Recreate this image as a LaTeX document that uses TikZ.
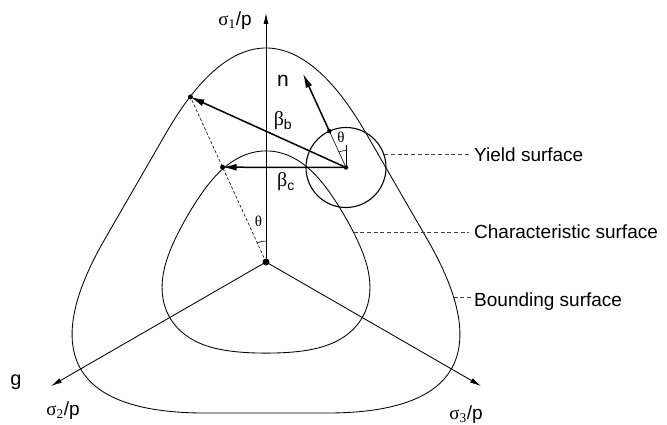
\documentclass[tikz,border=0pt]{standalone}
\usepackage{fontspec}
\setmainfont{Liberation Sans}
\newfontfamily\grk{Liberation Serif}
\usetikzlibrary{arrows.meta,calc}
\begin{document}
\begin{tikzpicture}[x=1pt,y=-1pt,
  curve/.style={line width=0.85pt},
  axis/.style={line width=0.85pt,-{Latex[length=11pt,width=5pt]}},
  vec/.style={line width=1.5pt,-{Latex[length=14pt,width=7pt]}},
  thinl/.style={line width=0.6pt},
  leader/.style={line width=0.6pt,draw=black!75,dash pattern=on 4pt off 2.7pt},
  guide/.style={line width=0.6pt,dash pattern=on 3pt off 2pt},
  dot/.style={circle,fill,inner sep=0pt,minimum size=#1},
  lbl/.style={font=\fontsize{19}{22}\selectfont,anchor=base west,inner sep=0pt},
  sym/.style={font=\fontsize{19}{22}\selectfont,inner sep=0pt},
  greek/.style={font=\fontsize{20}{22}\selectfont\grk,inner sep=0pt},
  ang/.style={font=\fontsize{15}{17}\selectfont\grk,inner sep=0pt}
]
\useasboundingbox (0,0) rectangle (667,425);

% key points
\coordinate (O) at (266,262);
\coordinate (s1) at (266,13);
\coordinate (s2) at (51,386);
\coordinate (s3) at (481,386);
\coordinate (C) at (346,167.5);
\coordinate (B) at ($(O)+(-114.6:181.5)$);
\coordinate (Cc) at ($(O)!0.5745!(B)$);
\coordinate (N0) at ($(C)+(-114.6:40)$);
\coordinate (N1) at ($(C)+(-114.6:103)$);

% bounding surface: straight sides with rounded corners
\coordinate (A0) at (166,133.2);
\coordinate (A1) at (231.6,19.6);
\coordinate (A2) at (300.4,19.6);
\coordinate (A3) at (366,133.2);
\foreach \n in {0,1,2,3}{
  \coordinate (R\n) at ($(O)!1!-120:(A\n)$);
  \coordinate (L\n) at ($(O)!1!120:(A\n)$);
}
\draw[curve] (A0) .. controls (A1) and (A2) .. (A3)
  -- (R0) .. controls (R1) and (R2) .. (R3)
  -- (L0) .. controls (L1) and (L2) .. (L3) -- cycle;

% characteristic surface
\draw[curve] plot[domain=0:360,samples=241,variable=\t]
  ({266+(100.5+10*cos(3*\t)+0.6*cos(6*\t))*sin(\t)},
   {262-(100.5+10*cos(3*\t)+0.6*cos(6*\t))*cos(\t)}) -- cycle;
% yield surface
\node[draw,circle,line width=1.1pt,minimum size=80pt,inner sep=0pt] (yield) at (C) {};

% axes
\draw[axis] (O) -- (s1);
\draw[axis] (O) -- (s2);
\draw[axis] (O) -- (s3);

% dashed guide and angle at O
\draw[guide] (O) -- (B);
\draw[thinl] ([shift={(-90:21)}]O) arc[start angle=-90,end angle=-114.6,radius=21];

% vectors
\draw[vec] (C) -- (B);
\draw[vec] (C) -- (Cc);
\draw[thinl] (C) -- (N0);
\draw[vec] (N0) -- (N1);
\draw[thinl] (C) -- ++(0,-22) coordinate (Ct);
\draw[thinl] ([shift={(-90:17)}]C) arc[start angle=-90,end angle=-114.6,radius=17];

% dots
\node[dot=7pt] (Od) at (O) {};
\node[dot=5pt] (Bd) at (B) {};
\node[dot=5pt] (Ccd) at (Cc) {};
\node[dot=4.5pt] (Cd) at (C) {};
\node[dot=4.5pt] (N0d) at (N0) {};

% labels
\node[sym] (l1) at (235,21) {{\grk σ}\textsubscript{\grk 1}/p};
\node[sym] (l2) at (63,411) {{\grk σ}\textsubscript{\grk 2}/p};
\node[sym] (l3) at (466,415) {{\grk σ}\textsubscript{\grk 3}/p};
\node[font=\fontsize{20}{22}\selectfont,inner sep=0pt] (lg) at (16,382) {g};
\node[font=\fontsize{21}{22}\selectfont,inner sep=0pt] (ln) at (283,81) {n};
\node[greek] (lbb) at (283,121) {β\textsubscript{\normalfont b}};
\node[greek] (lbc) at (286,182) {β\textsubscript{\normalfont c}};
\node[ang] (lt1) at (341,137.5) {θ};
\node[ang] (lt2) at (258.5,221.5) {θ};

% surface labels with leaders
\node[lbl] (ly) at (474,161.7) {Yield surface};
\node[lbl] (lc) at (474,238.5) {Characteristic surface};
\node[lbl] (lb) at (474,306) {Bounding surface};
\coordinate (ys) at (yield.19);
\coordinate (cs) at (353.5,232);
\coordinate (bs) at (453.5,297);
\draw[leader] (ys) -- ($(ly.west |- ys)+(-5,0)$);
\draw[leader] (cs) -- ($(lc.west |- cs)+(-5,0)$);
\draw[leader] (bs) -- ($(lb.west |- bs)+(-3,0)$);
\end{tikzpicture}
\end{document}
